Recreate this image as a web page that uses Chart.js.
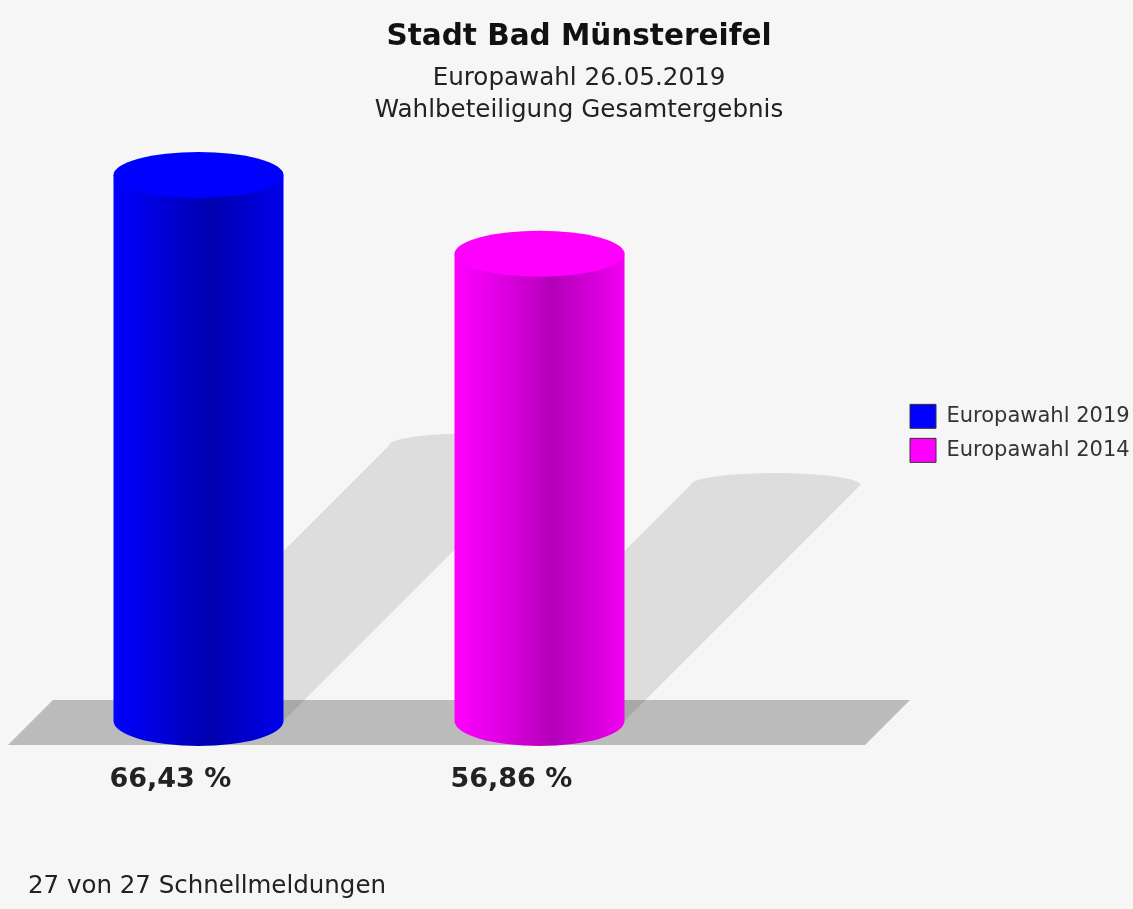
<!DOCTYPE html>
<html>
<head>
<meta charset="utf-8">
<script src="https://cdn.jsdelivr.net/npm/chart.js@4/dist/chart.umd.min.js"></script>
<style>
  html, body { margin: 0; padding: 0; background: #f6f6f6; }
  #wrap { width: 1133px; height: 909px; }
</style>
</head>
<body>
<div id="wrap"><canvas id="c"></canvas></div>
<script>
// ---- data ----
const chartTitle = 'Stadt Bad Münstereifel';
const chartSubtitle = ['Europawahl 26.05.2019', 'Wahlbeteiligung Gesamtergebnis'];
const categories = ['Wahlbeteiligung'];
const seriesNames = ['Europawahl 2019', 'Europawahl 2014'];
const turnout2019 = [66.43];
const turnout2014 = [56.86];
const footnote = '27 von 27 Schnellmeldungen';

// ---- styles ----
const FONT = '"DejaVu Sans", "Liberation Sans", sans-serif';
const seriesColors = ['#0000ff', '#ff00ff'];
const seriesShades = [
  ['#0000ff', '#0000d6', '#0000ae', '#0000d2', '#0000ec'],
  ['#ff00ff', '#dc00e0', '#b400b8', '#d600da', '#f200f2']
];
const shadeStops = [0, 0.3, 0.58, 0.82, 1];

function fmtPct(v) { return v.toFixed(2).replace('.', ',') + ' %'; }

const cylinderPlugin = {
  id: 'cylinders',
  beforeDatasetsDraw(chart) {
    const ctx = chart.ctx;
    const area = chart.chartArea;
    const yScale = chart.scales.y;
    const base = yScale.getPixelForValue(0);

    // floor
    const fTop = base - 21, fBot = base + 24, slant = fBot - fTop;
    const fLeft = area.left - 20, fRight = yScale.right + 10;
    ctx.save();
    ctx.fillStyle = '#bbbbbb';
    ctx.beginPath();
    ctx.moveTo(fLeft, fBot);
    ctx.lineTo(fLeft + slant, fTop);
    ctx.lineTo(fRight, fTop);
    ctx.lineTo(fRight - slant, fBot);
    ctx.closePath();
    ctx.fill();

    const bars = [];
    chart.data.datasets.forEach((ds, di) => {
      if (!chart.isDatasetVisible(di)) return;
      const meta = chart.getDatasetMeta(di);
      meta.data.forEach((bar, i) => {
        const p = bar.getProps(['x', 'y', 'width'], true);
        bars.push({ p, di, value: ds.data[i] });
      });
    });

    // shadows
    ctx.fillStyle = 'rgba(0,0,0,0.1)';
    bars.forEach(({ p }) => {
      const L = p.x - p.width / 2, R = p.x + p.width / 2;
      const h = base - p.y, d = h * 0.505;
      ctx.beginPath();
      ctx.moveTo(L, base);
      ctx.lineTo(L + d, base - d);
      ctx.ellipse(p.x + d, base - d, p.width / 2, 12, 0, Math.PI, 2 * Math.PI);
      ctx.lineTo(R, base);
      ctx.closePath();
      ctx.fill();
    });

    // cylinders
    bars.forEach(({ p, di }) => {
      const L = p.x - p.width / 2, R = p.x + p.width / 2;
      const rx = p.width / 2, ry = 23;
      const g = ctx.createLinearGradient(L, 0, R, 0);
      seriesShades[di].forEach((c, k) => g.addColorStop(shadeStops[k], c));
      ctx.fillStyle = g;
      ctx.beginPath();
      ctx.moveTo(L, p.y);
      ctx.lineTo(L, base);
      ctx.ellipse(p.x, base, rx, ry + 2, 0, Math.PI, 0, true);
      ctx.lineTo(R, p.y);
      ctx.closePath();
      ctx.fill();
      ctx.fillStyle = seriesColors[di];
      ctx.beginPath();
      ctx.ellipse(p.x, p.y, rx, ry, 0, 0, 2 * Math.PI);
      ctx.fill();
    });

    // value labels
    ctx.fillStyle = '#222222';
    ctx.font = 'bold 27px ' + FONT;
    ctx.textAlign = 'left';
    ctx.textBaseline = 'middle';
    bars.forEach(({ p, value }) => {
      ctx.fillText(fmtPct(value), p.x - p.width / 2 - 4, base + 58.5);
    });
    ctx.restore();
    return false;
  }
};

Chart.defaults.font.family = FONT;

new Chart(document.getElementById('c'), {
  type: 'bar',
  data: {
    labels: categories,
    datasets: [
      { label: seriesNames[0], data: turnout2019, backgroundColor: seriesColors[0], borderColor: '#333333', borderWidth: 1 },
      { label: seriesNames[1], data: turnout2014, backgroundColor: seriesColors[1], borderColor: '#333333', borderWidth: 1 }
    ]
  },
  options: {
    responsive: true,
    maintainAspectRatio: false,
    animation: false,
    layout: { padding: { left: 28, right: 3, top: 0, bottom: 0 } },
    datasets: { bar: { barPercentage: 0.4985, categoryPercentage: 1 } },
    plugins: {
      title: {
        display: true, text: chartTitle, color: '#111111',
        font: { size: 29.5, weight: 'bold', lineHeight: 1.2 },
        padding: { top: 20, bottom: 0 }
      },
      subtitle: {
        display: true, text: chartSubtitle, color: '#222222',
        font: { size: 24.6, weight: 'normal', lineHeight: 32 / 24.6 },
        padding: { top: 7, bottom: 19.3 }
      },
      legend: {
        position: 'right', fullSize: false, align: 'center', maxWidth: 230,
        labels: {
          boxWidth: 26, boxHeight: 24, padding: 10, color: '#333333',
          font: { size: 21 }
        }
      },
      tooltip: { enabled: false }
    },
    scales: {
      x: {
        display: true,
        grid: { display: false, drawTicks: false },
        border: { display: false },
        ticks: { display: false },
        title: {
          display: true, text: footnote, align: 'start', color: '#222222',
          font: { size: 24.5, lineHeight: 1.2 },
          padding: { top: 150.6, bottom: 8 }
        }
      },
      y: {
        position: 'right', min: 0, max: 70, display: true,
        grid: { display: false, drawTicks: false },
        border: { display: false },
        ticks: { display: false },
        afterFit(s) { s.width = 190; }
      }
    }
  },
  plugins: [cylinderPlugin]
});
</script>
</body>
</html>
